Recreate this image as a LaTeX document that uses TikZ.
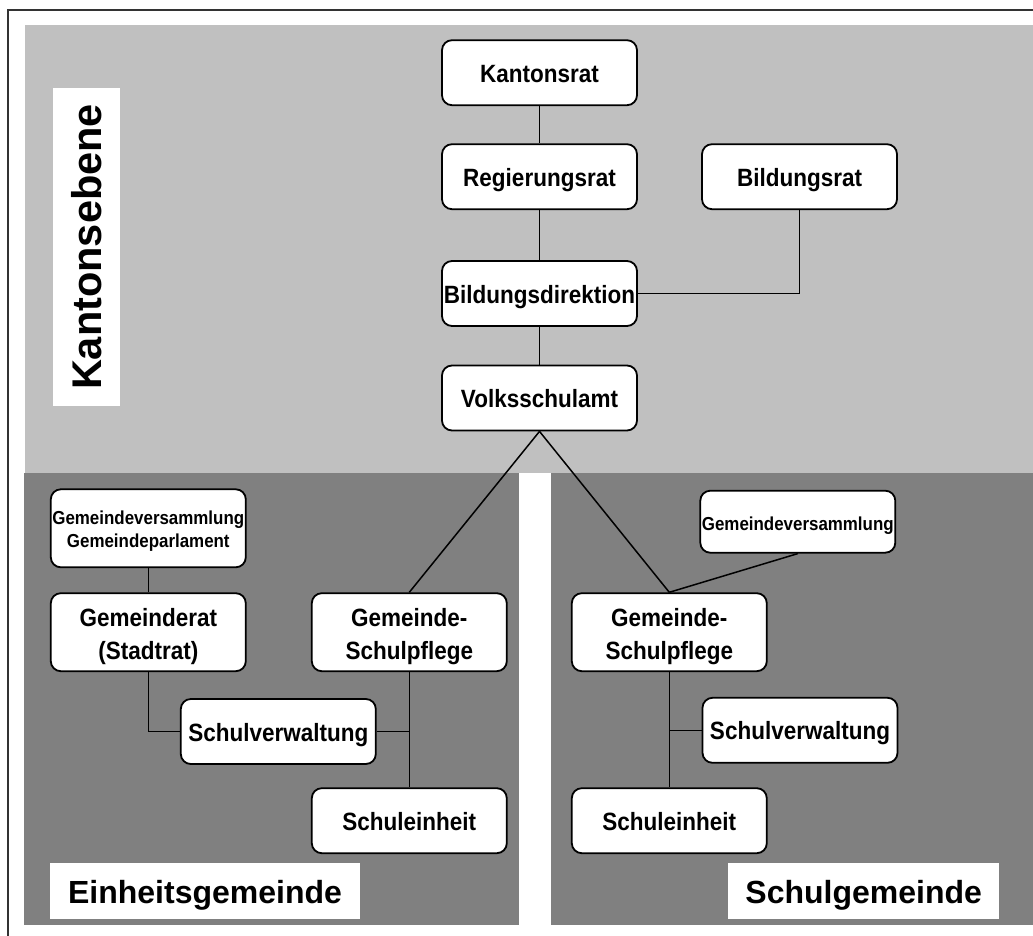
\documentclass[tikz,border=0pt]{standalone}
\usepackage{fontspec}
\setmainfont{Liberation Sans}
\newfontfamily\boxfont[FakeStretch=0.9]{Liberation Sans}
\definecolor{lightreg}{HTML}{C0C0C0}
\definecolor{darkreg}{HTML}{808080}
\definecolor{framecol}{HTML}{333333}
\begin{document}
\begin{tikzpicture}[x=1pt,y=-1pt,
  box/.style={draw=black, line width=1.8pt, fill=white, rounded corners=10pt,
    minimum width=195pt, minimum height=65pt, inner sep=0pt, align=center,
    font=\boxfont\bfseries\fontsize{25}{32.5}\selectfont,
    text height=19pt, text depth=0pt},
  twoline/.style={minimum height=78pt, text height=53.6pt, text depth=0pt},
  smalltwo/.style={minimum height=78pt, text height=38.8pt, text depth=0pt,
    font=\boxfont\bfseries\fontsize{18.8}{23.7}\selectfont},
  smallone/.style={minimum height=62pt, text height=16.6pt, text depth=0pt,
    font=\boxfont\bfseries\fontsize{18.8}{23.7}\selectfont},
  tagbox/.style={fill=white, inner sep=0pt, anchor=base,
    font=\bfseries\fontsize{32}{32}\selectfont},
  conn/.style={line width=1.5pt, black}]
\useasboundingbox (0,0) rectangle (1033,936);
% regions
\fill[lightreg] (25,25) rectangle (1033,473);
\fill[darkreg] (24,473) rectangle (519,925);
\fill[darkreg] (551,473) rectangle (1033,925);
\draw[framecol, line width=1.3pt] (8,936) -- (8,10) -- (1033,10);
% level labels
\node[tagbox, rotate=90, text height=48.7pt, text depth=18.3pt, minimum width=318pt,
  font=\bfseries\fontsize{41.5}{41.5}\selectfont] (kanton) at (101.7,247) {Kantonsebene};
\node[tagbox, text height=41.1pt, text depth=15.2pt, minimum width=310pt] (einheit) at (205,903.8) {Einheitsgemeinde};
\node[tagbox, text height=40pt, text depth=15.4pt, minimum width=270.7pt] (schulg) at (863.7,903.3) {Schulgemeinde};
% canton
\node[box] (kr) at (539.5,72.7) {Kantonsrat};
\node[box] (rr) at (539.5,176.7) {Regierungsrat};
\node[box] (br) at (799.5,176.7) {Bildungsrat};
\node[box] (bd) at (539.5,293.5) {Bildungsdirektion};
\node[box] (vsa) at (539.5,398) {Volksschulamt};
% Einheitsgemeinde
\node[box, smalltwo] (gvl) at (148.3,528.3) {Gemeindeversammlung\\Gemeindeparlament};
\node[box, twoline] (grl) at (148.3,632.2) {Gemeinderat\\(Stadtrat)};
\node[box, twoline] (gsl) at (409.3,632.2) {Gemeinde-\\Schulpflege};
\node[box] (svl) at (278.3,731.5) {Schulverwaltung};
\node[box] (sel) at (409.3,820.7) {Schuleinheit};
% Schulgemeinde
\node[box, smallone] (gvr) at (797.8,521.7) {Gemeindeversammlung};
\node[box, twoline] (gsr) at (669.3,632.2) {Gemeinde-\\Schulpflege};
\node[box] (svr) at (800,730.3) {Schulverwaltung};
\node[box] (ser) at (669.3,820.7) {Schuleinheit};
% connectors
\draw[conn] (kr.south) -- (rr.north);
\draw[conn] (rr.south) -- (bd.north);
\draw[conn] (bd.south) -- (vsa.north);
\draw[conn] (bd.east) -| (br.south);
\draw[conn] (vsa.south) -- (gsl.north);
\draw[conn] (vsa.south) -- (gsr.north);
\draw[conn] (gvr.south) -- (gsr.north);
\draw[conn] (gvl.south) -- (grl.north);
\draw[conn] (grl.south) |- (svl.west);
\draw[conn] (gsl.south) -- (sel.north);
\draw[conn] (svl.east) -- (svl.east -| gsl.south);
\draw[conn] (gsr.south) -- (ser.north);
\draw[conn] (svr.west) -- (svr.west -| gsr.south);
\end{tikzpicture}
\end{document}
